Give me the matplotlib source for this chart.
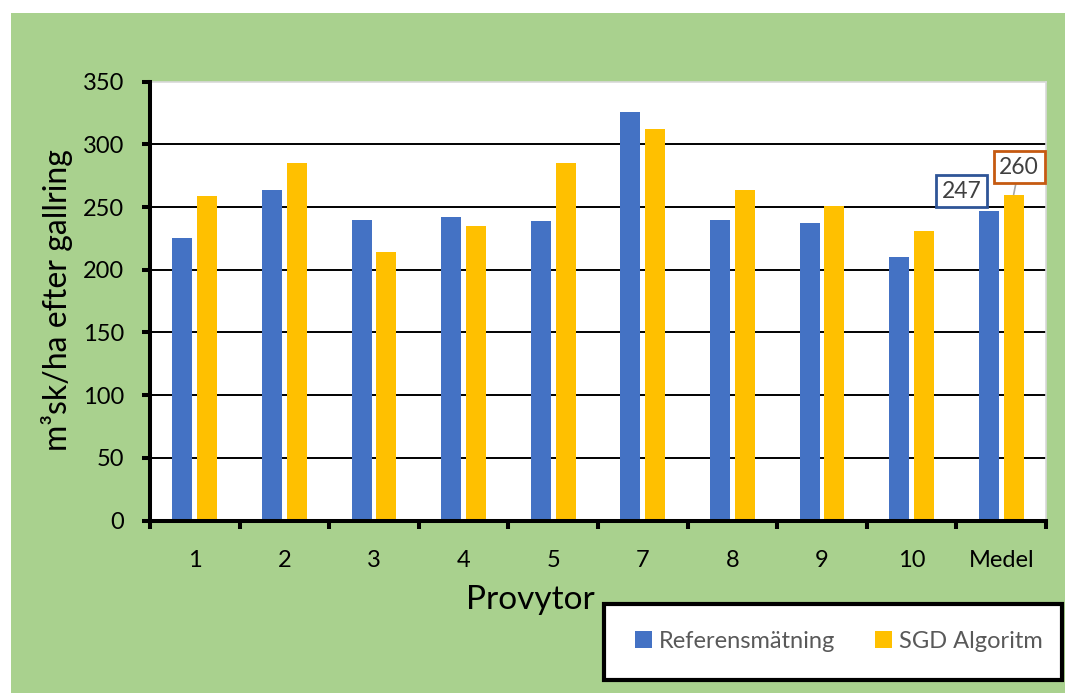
import matplotlib
matplotlib.use("Agg")
import matplotlib.pyplot as plt
from matplotlib.patches import Rectangle
import numpy as np

# Data
categories = ["1", "2", "3", "4", "5", "7", "8", "9", "10", "Medel"]
referens = [225, 264, 240, 242, 239, 326, 240, 237, 210, 247]
sgd = [259, 285, 214, 235, 285, 312, 264, 251, 231, 260]
y_ticks = [0, 50, 100, 150, 200, 250, 300, 350]
series_names = ["Referensmätning", "SGD Algoritm"]

plt.rcParams['font.family'] = ['Lato', 'DejaVu Sans']

W, H = 1065, 693
fig = plt.figure(figsize=(W / 100, H / 100), dpi=100)
fig.patch.set_facecolor("white")


def fx(px):
    return px / W


def fy(py):
    return 1 - py / H


# green chart area background
fig.add_artist(Rectangle((fx(11), 0), 1 - fx(11), fy(13), transform=fig.transFigure,
                         facecolor="#A9D18E", edgecolor="none", zorder=-10))

ax = fig.add_axes([fx(150), fy(520.5), fx(1046) - fx(150), fy(81.7) - fy(520.5)])
ax.set_facecolor("white")

x = np.arange(len(categories))
w = 0.223
off = 0.139
b1 = ax.bar(x - off, referens, w, color="#4472C4", zorder=3, label=series_names[0])
b2 = ax.bar(x + off, sgd, w, color="#FFC000", zorder=3, label=series_names[1])

ax.set_xlim(-0.5, len(categories) - 0.5)
ax.set_ylim(0, 350)
ax.set_yticks(y_ticks)
for v in y_ticks[1:-1]:
    ax.axhline(v, color="black", lw=1.4, zorder=1)

for s in ["top", "right"]:
    ax.spines[s].set_color("#D9D9D9")
    ax.spines[s].set_linewidth(1.2)
for s in ["left", "bottom"]:
    ax.spines[s].set_color("black")
    ax.spines[s].set_linewidth(2.9)
    ax.spines[s].set_zorder(4)

ax.tick_params(axis="y", direction="out", length=5.8, width=2.9, pad=13,
               labelsize=17, colors="black")
ax.set_xticks(x)
ax.set_xticklabels(categories)
ax.set_xticks(np.arange(-0.5, len(categories), 1.0), minor=True)
ax.tick_params(axis="x", which="major", length=0, pad=21, labelsize=17)
ax.tick_params(axis="x", which="minor", direction="out", length=5.8, width=2.9)

fig.text(fx(57), fy(300), "m³sk/ha efter gallring", rotation=90, fontsize=23,
         ha="center", va="center")
fig.text(fx(530), fy(600), "Provytor", fontsize=24, ha="center", va="center")

# data labels for the mean group
ax.annotate(f"{referens[-1]}", xy=(x[-1] - off, referens[-1]), xytext=(8.56, 262.8),
            ha="center", va="center", fontsize=16.5, color="#404040",
            bbox=dict(boxstyle="square,pad=0.25", fc="white", ec="#2F5597", lw=2), zorder=6)
ax.annotate(f"{sgd[-1]}", xy=(x[-1] + off, sgd[-1]), xytext=(9.2, 281.9),
            ha="center", va="center", fontsize=16.5, color="#404040",
            bbox=dict(boxstyle="square,pad=0.25", fc="white", ec="#C55A11", lw=2),
            arrowprops=dict(arrowstyle="-", color="#A6A6A6", lw=1.2, shrinkA=0, shrinkB=0),
            zorder=6)

# legend box
fig.add_artist(Rectangle((fx(604), fy(680)), fx(1062) - fx(604), fy(604) - fy(680),
                         transform=fig.transFigure, facecolor="white", edgecolor="black",
                         lw=3, zorder=4))
fig.legend(handles=[b1, b2], labels=series_names, loc="center",
           bbox_to_anchor=(fx(839), fy(641)), ncol=2, frameon=False, fontsize=17,
           handlelength=0.7, handleheight=0.7, handletextpad=0.3, columnspacing=1.7,
           labelcolor="#595959")

fig.savefig("out.png", dpi=100)
